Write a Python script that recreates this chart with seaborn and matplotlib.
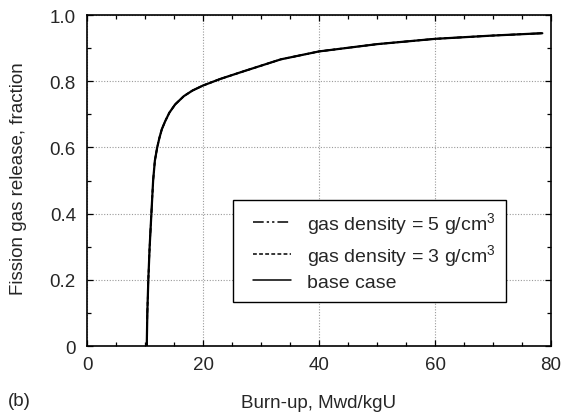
import matplotlib
matplotlib.use("Agg")
import matplotlib.pyplot as plt
from matplotlib.legend_handler import HandlerLine2D
import numpy as np
import seaborn as sns
import pandas as pd

# Fission gas release vs. burn-up (all three cases coincide)
burnup = [10.3, 10.4, 10.57, 10.8, 11.1, 11.4, 11.7, 12.1, 12.5, 12.9,
          13.5, 14.2, 15.2, 16.7, 18.2, 20.0, 23.0, 27.0, 33.4, 40.0, 50.0,
          60.0, 70.0, 78.5]
release_base = [0.0, 0.1, 0.2, 0.3, 0.4, 0.5, 0.56, 0.6, 0.63, 0.655,
                0.68, 0.705, 0.73, 0.755, 0.772, 0.787, 0.807, 0.83, 0.866,
                0.89, 0.912, 0.928, 0.938, 0.945]
release_rho5 = list(release_base)
release_rho3 = list(release_base)

series_labels = ["gas density = 5 g/cm$^3$", "gas density = 3 g/cm$^3$", "base case"]
xticks = [0, 20, 40, 60, 80]
xtick_labels = ["0", "20", "40", "60", "80"]
yticks = [0, 0.2, 0.4, 0.6, 0.8, 1.0]
ytick_labels = ["0", "0.2", "0.4", "0.6", "0.8", "1.0"]

sns.set_theme(style="ticks")
plt.rcParams["font.family"] = ["Liberation Sans", "DejaVu Sans"]
plt.rcParams["mathtext.default"] = "regular"
FS = 13.5
LEG_FS = 14


class InsetLine(HandlerLine2D):
    """Legend line that leaves a small gap at the left of the handle box."""
    def get_xdata(self, legend, xdescent, ydescent, width, height, fontsize):
        gap = 0.19 * width
        xdata = np.array([-xdescent + gap, -xdescent + width])
        return xdata, xdata


fig = plt.figure(figsize=(5.61, 4.14), dpi=100)
ax = fig.add_axes([0.1551, 0.1618, 0.8271, 0.7995])

styles = [(0, (7, 2, 1.5, 2, 1.5, 2)), (0, (2.5, 1.5)), "-"]
widths = [1.2, 1.2, 1.6]
for vals, lab, ls, lw in zip([release_rho5, release_rho3, release_base],
                             series_labels, styles, widths):
    df = pd.DataFrame({"burnup": burnup, "release": vals})
    sns.lineplot(data=df, x="burnup", y="release", ax=ax, color="black",
                 linewidth=lw, linestyle=ls, label=lab, sort=False)

ax.set_xlim(0, 80)
ax.set_ylim(0, 1.0)
ax.set_xticks(xticks)
ax.set_xticklabels(xtick_labels)
ax.set_yticks(yticks)
ax.set_yticklabels(ytick_labels)
ax.set_xticks(range(0, 81, 5), minor=True)
ax.set_yticks([i / 10 for i in range(11)], minor=True)

ax.grid(True, which="major", color="#9a9a9a", linestyle=(0, (1, 1.5)), linewidth=0.8)
ax.tick_params(which="both", direction="in", top=True, right=True,
               color="black", width=0.9)
ax.tick_params(which="major", length=4, labelsize=FS)
ax.tick_params(axis="x", which="major", pad=7)
ax.tick_params(axis="y", which="major", pad=8)
ax.tick_params(which="minor", length=3)
for s in ax.spines.values():
    s.set_color("black")
    s.set_linewidth(1.2)

ax.set_xlabel("Burn-up, Mwd/kgU", fontsize=FS)
ax.set_ylabel("Fission gas release, fraction", fontsize=FS)
ax.xaxis.set_label_coords(0.5, -0.145)
ax.yaxis.set_label_coords(-0.13, 0.51)
fig.text(8 / 561, 0.02, "(b)", fontsize=FS, ha="left", va="baseline")

handles, labels = ax.get_legend_handles_labels()
leg = ax.legend(handles, labels, loc="lower left", bbox_to_anchor=(0.315, 0.133),
                fontsize=LEG_FS, frameon=True, fancybox=False, edgecolor="black",
                framealpha=1, handlelength=2.4, handletextpad=0.85,
                labelspacing=0.3, borderpad=0.55, borderaxespad=0,
                handler_map={h: InsetLine() for h in handles})
leg.get_frame().set_linewidth(1.0)
for line in leg.get_lines():
    line.set_linewidth(1.1)

fig.savefig("out.png", dpi=100)
